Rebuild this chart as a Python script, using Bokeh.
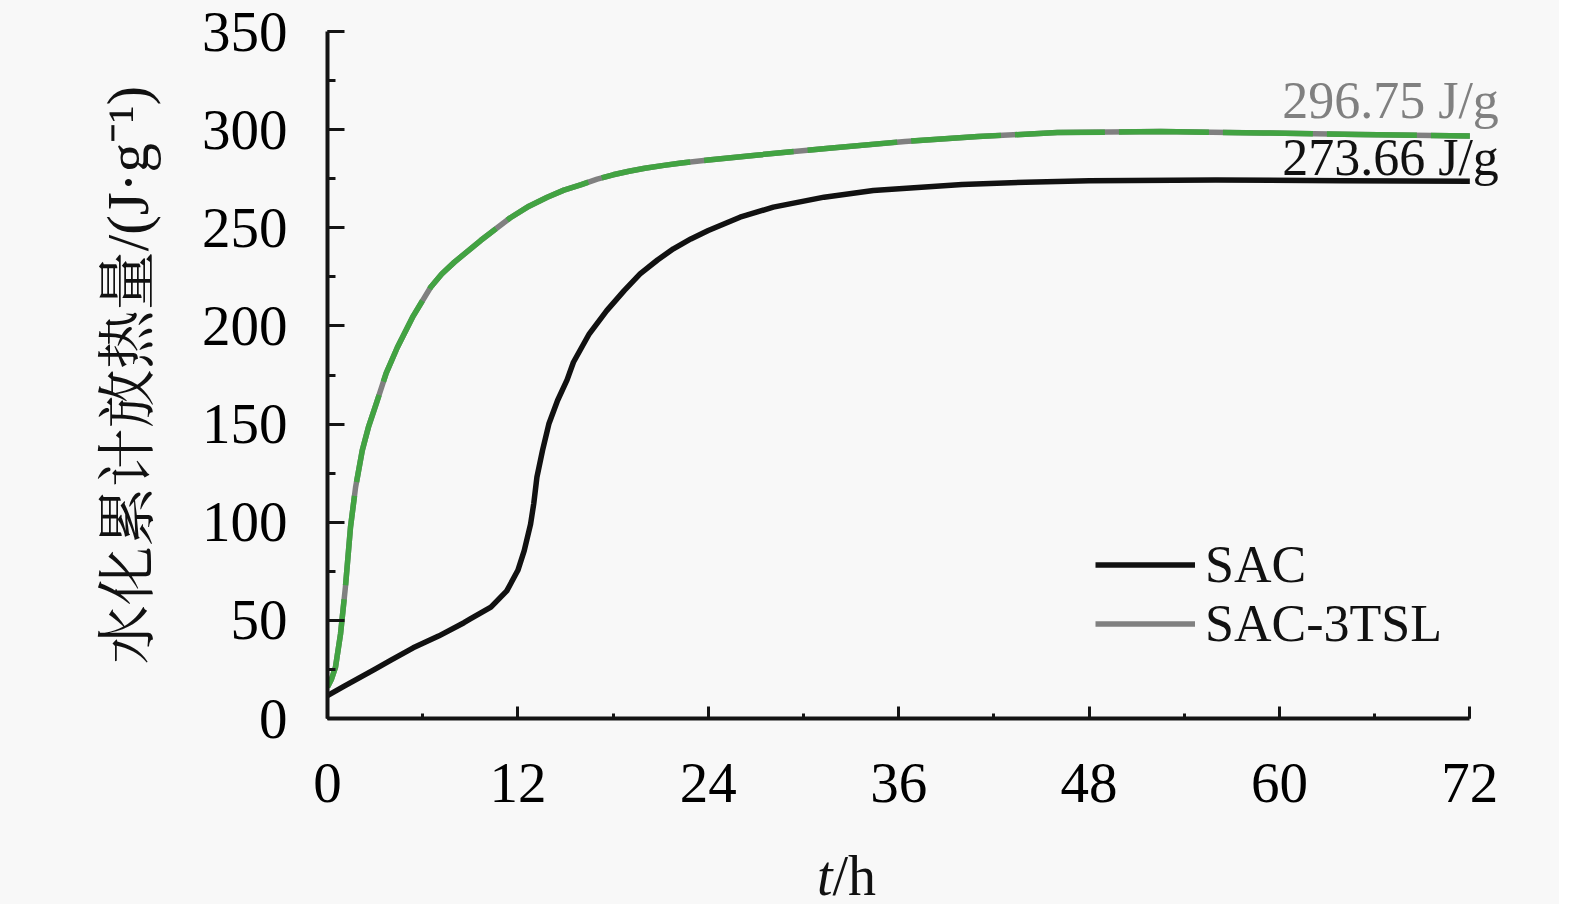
from bokeh.plotting import figure
from bokeh.models import Range1d, SingleIntervalTicker, Legend, LegendItem, Div
from bokeh.layouts import column
from bokeh.core.properties import value
from bokeh.embed import file_html
from bokeh.resources import INLINE

# ---- data ----
t_sac = [0, 1, 2, 3, 4, 5.4, 7, 8.6, 9.0, 10.3, 11.3, 12.0, 12.4, 12.8, 13.0, 13.2,
         13.55, 13.95, 14.5, 15.1, 15.5, 16.5, 17.6, 18.7, 19.7, 20.8, 21.8, 22.9, 24,
         26, 28.1, 31.3, 34.4, 40, 44, 48, 56, 64, 72]
q_sac = [11.7, 16.2, 20.7, 25.2, 29.7, 36, 42, 48.8, 50.7, 56.7, 65, 75.5, 85.5, 99,
         109.5, 123, 136.5, 150, 162, 172.5, 181.5, 196, 207.8, 218, 226.5, 233.6,
         239.3, 244.3, 248.6, 255.4, 260.5, 265.6, 269, 272, 273.2, 274, 274.3, 274,
         273.66]

t_tsl = [0, 0.25, 0.5, 0.82, 1.13, 1.45, 1.77, 2.19, 2.6, 3.1, 3.7, 4.4, 5.4, 6.5, 7.2,
         8, 9.65, 11.5, 12.7, 13.85, 14.9, 16, 17, 18, 19, 20, 21.2, 22.3, 24, 27, 31.6,
         36.4, 41, 46, 52.5, 59, 65, 72]
q_tsl = [16, 20, 26, 43, 67, 97.5, 117.8, 136.5, 149, 161, 176, 189, 205, 219.7, 226.5,
         232.5, 243.5, 255, 261, 265.6, 269.2, 272, 274.8, 277, 278.8, 280.3, 281.8, 283,
         284.5, 287, 290.5, 294, 296.5, 298.5, 299, 298.3, 297.5, 296.75]

series_names = ["SAC", "SAC-3TSL"]
final_times = [72, 72]
final_values = [273.66, 296.75]
final_labels = [f"{v:.2f} J/g" for v in final_values]

x_label_main = "t"
x_label_unit = "/h"
y_label = "水化累计放热量/(J·g⁻¹)"

# ---- style ----
BG = "#f8f8f8"
SERIF = "Liberation Serif"
CJK = "Liberation Serif, Noto Serif CJK SC, Noto Sans CJK SC"
AX = "#141414"

p = figure(frame_width=1182, frame_height=687,
           min_border_left=327, min_border_top=31, min_border_right=50, min_border_bottom=100,
           x_range=Range1d(0, 74.5), y_range=Range1d(0, 350),
           output_backend="svg", toolbar_location=None,
           background_fill_color=BG, border_fill_color=BG, outline_line_color=None)

p.xgrid.grid_line_color = None
p.ygrid.grid_line_color = None

xa = p.xaxis[0]
xa.ticker = SingleIntervalTicker(interval=12, num_minor_ticks=2)
xa.bounds = (0, 72)
xa.axis_line_width = 4
xa.axis_line_color = AX
xa.major_tick_in = 12
xa.major_tick_out = 0
xa.minor_tick_in = 5
xa.minor_tick_out = 0
xa.major_tick_line_width = 3
xa.minor_tick_line_width = 3
xa.major_tick_line_color = AX
xa.minor_tick_line_color = AX
xa.major_label_standoff = 45
xa.major_label_text_font = SERIF
xa.major_label_text_font_size = "57px"
xa.major_label_text_color = "black"

ya = p.yaxis[0]
ya.ticker = SingleIntervalTicker(interval=50, num_minor_ticks=2)
ya.axis_line_width = 4
ya.axis_line_color = AX
ya.major_tick_in = 17
ya.major_tick_out = 0
ya.minor_tick_in = 8
ya.minor_tick_out = 0
ya.major_tick_line_width = 3
ya.minor_tick_line_width = 3
ya.major_tick_line_color = AX
ya.minor_tick_line_color = AX
ya.major_label_standoff = 40
ya.major_label_text_font = SERIF
ya.major_label_text_font_size = "57px"
ya.major_label_text_color = "black"
ya.axis_label = y_label
ya.axis_label_standoff = 38
ya.axis_label_text_font = CJK
ya.axis_label_text_font_size = "59px"
ya.axis_label_text_font_style = "normal"
ya.axis_label_text_color = "#111111"

# ---- curves ----
r_sac = p.line(t_sac, q_sac, line_color="#111111", line_width=5.5, line_join="round")
r_gray = p.line(t_tsl, q_tsl, line_color="#808080", line_width=5.5, line_join="round")
p.line(t_tsl, q_tsl, line_color="#42a342", line_width=5.5, line_dash="90 14", line_join="round")

# ---- end value labels ----
p.text(x=final_times, y=final_values, text=final_labels,
       x_offset=29, y_offset=[-23.5, -35.5],
       text_align="right", text_baseline="middle",
       text_font=value(SERIF), text_font_size="52px",
       text_color=["#111111", "#808080"])

# ---- legend ----
legend = Legend(items=[LegendItem(label=series_names[0], renderers=[r_sac]),
                       LegendItem(label=series_names[1], renderers=[r_gray])],
                location=(768, 65), background_fill_alpha=0, border_line_color=None,
                padding=0, margin=0, spacing=0, glyph_width=100, glyph_height=55,
                label_height=55, label_standoff=10, label_text_font=SERIF,
                label_text_font_size="52px", label_text_color="#111111")
p.add_layout(legend)

# ---- x axis title with italic t ----
xlabel = Div(text=f'<span style="font-family:\'Liberation Serif\';font-size:56px;line-height:56px;color:#111111">'
                  f'<i>{x_label_main}</i>{x_label_unit}</span>',
             width=200, height=56, margin=(30, 0, 0, 817),
             styles={"font-family": "Liberation Serif", "font-size": "56px",
                     "line-height": "56px", "color": "#111111"})

layout = column(p, xlabel, spacing=0, styles={"background-color": BG})

html = file_html(layout, INLINE)
html = html.replace("<body>", f'<body style="background-color:{BG};">', 1)
open("out.html", "w").write(html)
